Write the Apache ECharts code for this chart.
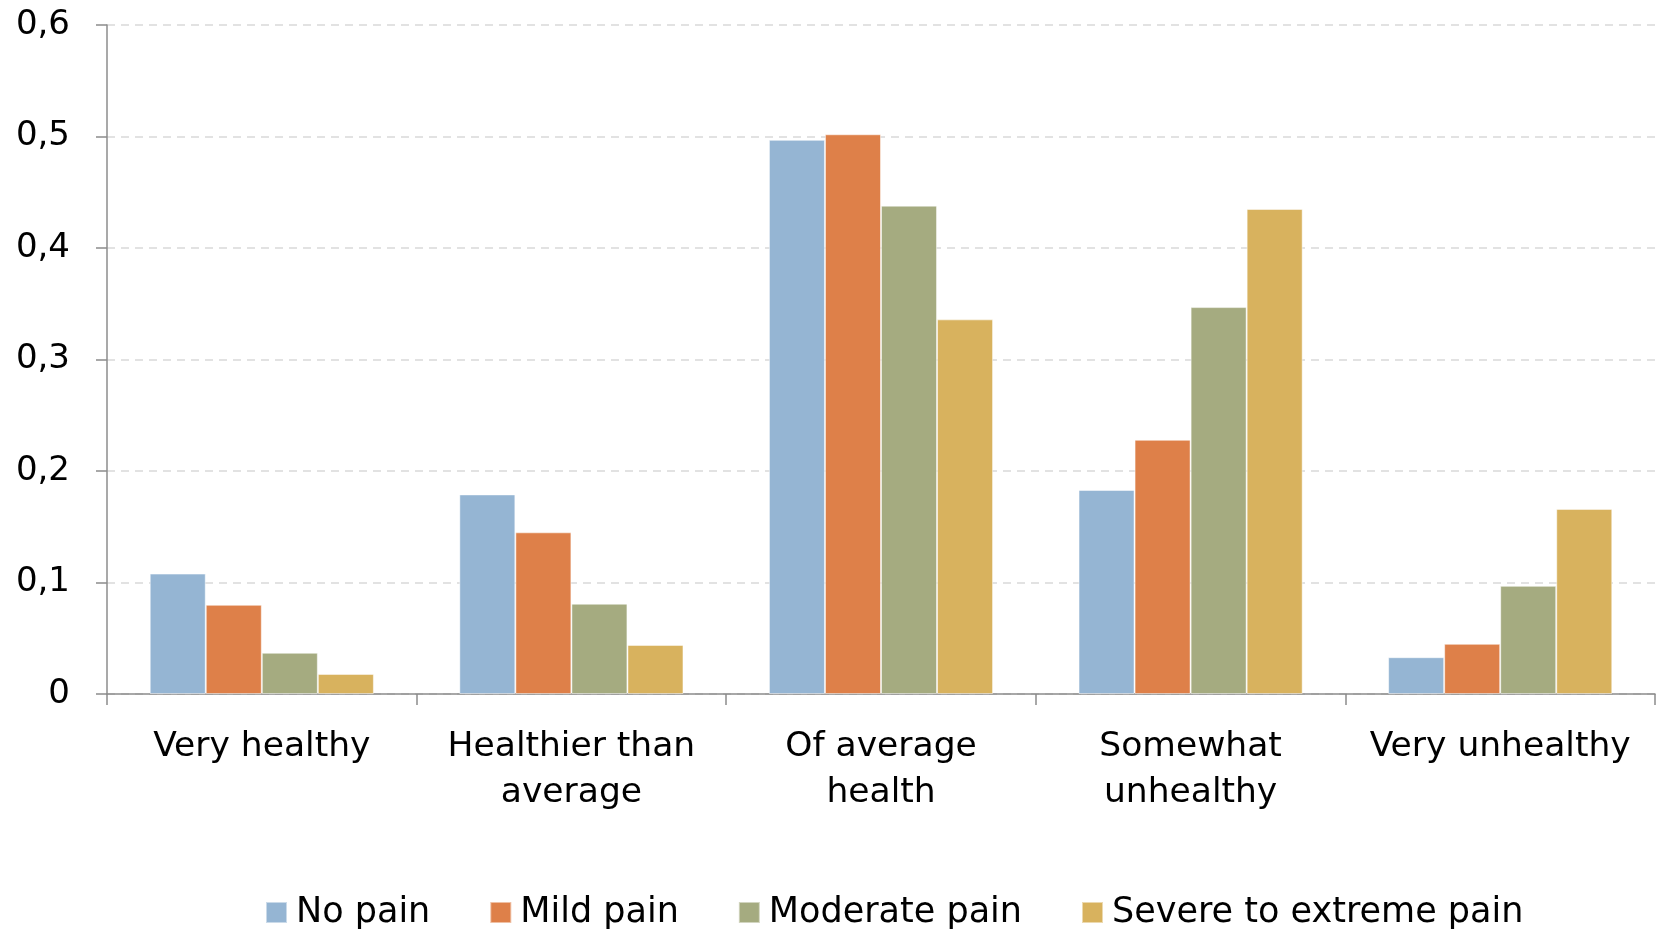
<!DOCTYPE html>
<html>
<head>
<meta charset="utf-8">
<script src="https://cdn.jsdelivr.net/npm/echarts@6/dist/echarts.min.js"></script>
<style>
  html, body { margin: 0; padding: 0; background: #ffffff; }
  #chart { width: 1658px; height: 931px; }
</style>
</head>
<body>
<div id="chart"></div>
<script>
// categories on the x axis
const categories = ['Very healthy', 'Healthier than\naverage', 'Of average\nhealth', 'Somewhat\nunhealthy', 'Very unhealthy'];
const seriesNames = ['No pain', 'Mild pain', 'Moderate pain', 'Severe to extreme pain'];
const colors = ['#95b5d3', '#de8049', '#a5ab80', '#d8b25e'];

// values
const noPain = [0.108, 0.179, 0.497, 0.183, 0.033];
const mildPain = [0.080, 0.145, 0.502, 0.228, 0.045];
const moderatePain = [0.037, 0.081, 0.438, 0.347, 0.097];
const severePain = [0.018, 0.044, 0.336, 0.435, 0.166];

const yTicks = [0, 0.1, 0.2, 0.3, 0.4, 0.5, 0.6];

const allValues = [noPain, mildPain, moderatePain, severePain];
const font = '"DejaVu Sans", sans-serif';

const chart = echarts.init(document.getElementById('chart'));
chart.setOption({
  animation: false,
  textStyle: { fontFamily: font },
  color: colors,
  grid: { left: 107, right: 3, top: 25, bottom: 237, containLabel: false },
  legend: {
    bottom: -4,
    left: 260,
    icon: 'rect',
    itemWidth: 21,
    itemHeight: 21,
    itemGap: 59,
    textStyle: { fontSize: 35, color: '#000', fontFamily: font, padding: [0, 0, 0, 4] },
    data: seriesNames
  },
  xAxis: {
    type: 'category',
    data: categories,
    axisLine: { lineStyle: { color: '#8c8c8c', width: 1.5 } },
    axisTick: { show: true, length: 11, lineStyle: { color: '#8c8c8c', width: 1.5 } },
    axisLabel: { color: '#000', fontSize: 34.5, lineHeight: 46, margin: 30, interval: 0, fontFamily: font }
  },
  yAxis: {
    type: 'value',
    min: yTicks[0],
    max: yTicks[yTicks.length - 1],
    interval: 0.1,
    axisLine: { show: true, lineStyle: { color: '#8c8c8c', width: 1.5 } },
    axisTick: { show: true, length: 11, lineStyle: { color: '#8c8c8c', width: 1.5 } },
    axisLabel: {
      color: '#000', fontSize: 34, margin: 37, fontFamily: font,
      formatter: v => String(Math.round(v * 10) / 10).replace('.', ',')
    },
    splitLine: { show: true, lineStyle: { color: '#d9d9d9', type: [8, 6], width: 1.5 } }
  },
  series: seriesNames.map((name, i) => ({
    name: name,
    type: 'bar',
    data: allValues[i],
    barGap: '0%',
    barCategoryGap: '27.6%',
    itemStyle: { color: colors[i], borderColor: 'rgba(255,255,255,0.5)', borderWidth: 1 }
  }))
});
</script>
</body>
</html>
